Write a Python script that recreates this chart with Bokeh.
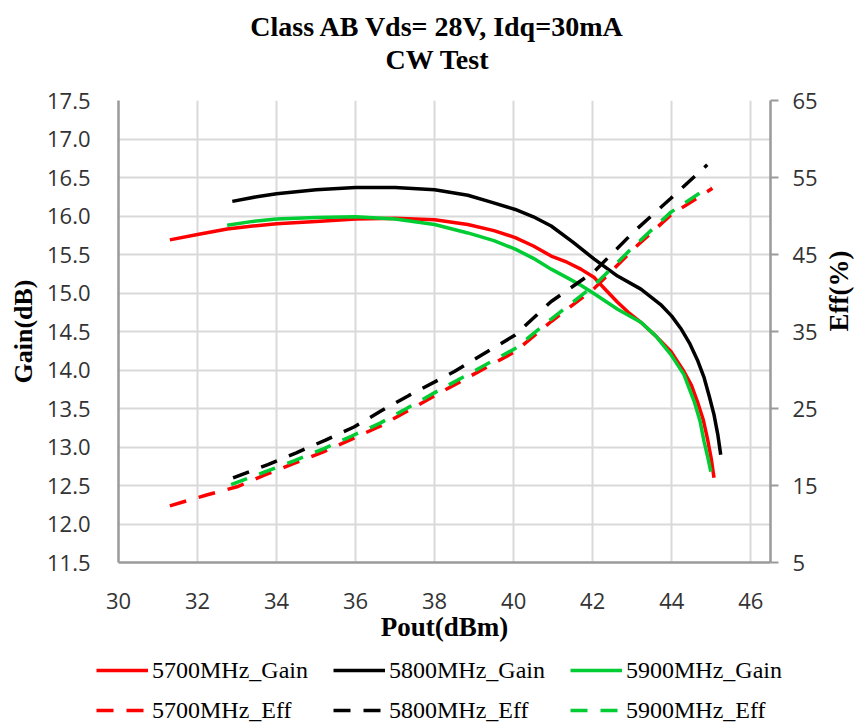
import math
from bokeh.plotting import figure
from bokeh.layouts import column
from bokeh.models import (Range1d, LinearAxis, FixedTicker, PrintfTickFormatter,
                          Legend, LegendItem, Title)
from bokeh.embed import file_html
from bokeh.resources import INLINE

# ---------------- data ----------------
title_line1 = "Class AB Vds= 28V, Idq=30mA"
title_line2 = "CW Test"
x_label = "Pout(dBm)"
y_label = "Gain(dB)"
y2_label = "Eff(%)"

x_ticks = [30, 32, 34, 36, 38, 40, 42, 44, 46]
gain_ticks = [11.5, 12.0, 12.5, 13.0, 13.5, 14.0, 14.5, 15.0, 15.5, 16.0, 16.5, 17.0, 17.5]
eff_ticks = [5, 15, 25, 35, 45, 55, 65]

series_names = ["5700MHz", "5800MHz", "5900MHz"]
series_colors = ["#ff0000", "#000000", "#00cc33"]

pout_5700_gain = [31.3, 32.0, 32.75, 33.4, 34.0, 35.0, 36.0, 37.0, 38.0, 38.84,
                  39.5, 40.04, 40.5, 40.95, 41.35, 41.7, 42.04, 42.35, 42.63, 42.9,
                  43.22, 43.6, 43.98, 44.31, 44.5, 44.65, 44.8, 44.9, 45.0, 45.07]
gain_5700 = [15.69, 15.76, 15.83, 15.87, 15.90, 15.93, 15.96, 15.97, 15.95, 15.89,
             15.81, 15.72, 15.61, 15.48, 15.40, 15.31, 15.20, 15.03, 14.88, 14.75,
             14.62, 14.44, 14.24, 13.98, 13.80, 13.59, 13.35, 13.12, 12.85, 12.60]

pout_5800_gain = [32.88, 33.5, 34.0, 35.0, 36.0, 37.0, 38.0, 38.84, 39.43, 40.04,
                  40.5, 40.95, 41.5, 42.04, 42.63, 43.22, 43.72, 44.0, 44.23, 44.45,
                  44.65, 44.82, 44.95, 45.07, 45.17, 45.24]
gain_5800 = [16.19, 16.25, 16.29, 16.34, 16.37, 16.37, 16.34, 16.27, 16.18, 16.085,
             15.99, 15.87, 15.66, 15.44, 15.22, 15.05, 14.85, 14.70, 14.54, 14.35,
             14.13, 13.90, 13.66, 13.42, 13.15, 12.90]

pout_5900_gain = [32.75, 33.4, 34.0, 35.0, 36.0, 37.0, 38.0, 38.84, 39.5, 40.04,
                  40.5, 40.95, 41.35, 41.7, 42.04, 42.63, 43.22, 43.6, 43.98, 44.31,
                  44.57, 44.72, 44.82, 44.92, 44.99]
gain_5900 = [15.88, 15.93, 15.96, 15.98, 15.99, 15.96, 15.89, 15.78, 15.68, 15.57,
             15.45, 15.31, 15.20, 15.10, 14.99, 14.79, 14.62, 14.44, 14.20, 13.94,
             13.59, 13.33, 13.07, 12.85, 12.68]

pout_5700_eff = [31.3, 32.25, 33.0, 33.72, 34.44, 35.2, 35.89, 36.62, 37.29, 37.98,
                 40.04, 40.95, 42.04, 43.05, 43.98, 45.03]
eff_5700 = [12.36, 13.8, 14.83, 16.4, 17.86, 19.4, 21.0, 22.7, 24.6, 26.6,
            32.4, 36.3, 40.6, 45.8, 50.15, 53.6]

pout_5800_eff = [32.9, 33.78, 34.5, 35.24, 35.96, 36.65, 37.35, 38.5, 40.04, 40.95,
                 42.04, 43.05, 43.98, 44.9]
eff_5800 = [16.0, 17.7, 19.25, 20.9, 22.6, 24.7, 26.7, 29.8, 34.55, 38.9,
            42.8, 48.0, 52.3, 56.65]

pout_5900_eff = [32.85, 33.72, 34.44, 35.2, 35.89, 36.62, 37.29, 37.98, 40.04, 40.95,
                 42.04, 43.05, 43.98, 44.98]
eff_5900 = [15.1, 16.8, 18.2, 19.8, 21.4, 23.1, 25.0, 27.0, 32.8, 36.6,
            41.0, 46.1, 50.5, 53.9]

gain_x = [pout_5700_gain, pout_5800_gain, pout_5900_gain]
gain_y = [gain_5700, gain_5800, gain_5900]
eff_x = [pout_5700_eff, pout_5800_eff, pout_5900_eff]
eff_y = [eff_5700, eff_5800, eff_5900]

# ---------------- styling constants ----------------
SERIF = "Liberation Serif"
SANS = "Open Sans"
AXIS_GRAY = "#9a9a9a"
GRID_GRAY = "#d9d9d9"
TICK_COLOR = "#333333"
LINE_W = 3.5
EFF_DASH = "17 13"

W = 857
HEAD_H = 80
LEG_H = 80
BORDER_L = 118
BORDER_R = 87

# ---------------- header (two-line title) ----------------
head = figure(width=W, height=HEAD_H, output_backend="svg", toolbar_location=None,
              x_range=Range1d(0, 1), y_range=Range1d(0, 1),
              x_axis_location=None, y_axis_location=None,
              min_border_left=BORDER_L, min_border_right=BORDER_R,
              min_border_top=74, min_border_bottom=0,
              background_fill_color="white", border_fill_color="white")
head.outline_line_color = None
head.xgrid.visible = False
head.ygrid.visible = False
head.title.visible = False
for txt in (title_line2, title_line1):
    head.add_layout(Title(text=txt, align="center", text_font=SERIF,
                          text_font_style="bold", text_font_size="28px",
                          text_color="black", offset=-10, standoff=0), "above")

# ---------------- main chart ----------------
p = figure(frame_width=652, frame_height=462, output_backend="svg", toolbar_location=None,
           x_range=Range1d(30, 46.5), y_range=Range1d(11.5, 17.5),
           min_border_left=BORDER_L, min_border_right=BORDER_R, min_border_top=20,
           min_border_bottom=82, background_fill_color="white",
           border_fill_color="white")
p.outline_line_color = None
p.title.visible = False

p.extra_y_ranges = {"eff": Range1d(5, 65)}

# grid
p.xgrid.ticker = FixedTicker(ticks=x_ticks)
p.ygrid.ticker = FixedTicker(ticks=gain_ticks)
for g in (p.xgrid[0], p.ygrid[0]):
    g.grid_line_color = GRID_GRAY
    g.grid_line_width = 2

# bottom axis
xa = p.xaxis[0]
xa.ticker = FixedTicker(ticks=x_ticks)
xa.axis_label = x_label
xa.axis_label_text_font = SERIF
xa.axis_label_text_font_style = "bold"
xa.axis_label_text_font_size = "27px"
xa.axis_label_text_color = "black"
xa.axis_label_standoff = 0
xa.major_label_text_font = SANS
xa.major_label_text_font_size = "22px"
xa.major_label_text_color = TICK_COLOR
xa.major_label_standoff = 30
xa.major_tick_in = 0
xa.major_tick_out = 0
xa.minor_tick_in = 0
xa.minor_tick_out = 0
xa.axis_line_color = AXIS_GRAY
xa.axis_line_width = 2.5

# left axis
ya = p.yaxis[0]
ya.ticker = FixedTicker(ticks=gain_ticks)
ya.formatter = PrintfTickFormatter(format="%.1f")
ya.axis_label = y_label
ya.axis_label_text_font = SERIF
ya.axis_label_text_font_style = "bold"
ya.axis_label_text_font_size = "26px"
ya.axis_label_text_color = "black"
ya.axis_label_standoff = 6
ya.major_label_text_font = SANS
ya.major_label_text_font_size = "22px"
ya.major_label_text_color = TICK_COLOR
ya.major_label_standoff = 28
ya.major_tick_in = 0
ya.major_tick_out = 0
ya.minor_tick_in = 0
ya.minor_tick_out = 0
ya.axis_line_color = AXIS_GRAY
ya.axis_line_width = 2.5

# right axis
ra = LinearAxis(y_range_name="eff", ticker=FixedTicker(ticks=eff_ticks))
ra.major_label_text_font = SANS
ra.major_label_text_font_size = "22px"
ra.major_label_text_color = TICK_COLOR
ra.major_label_standoff = 14
ra.major_tick_in = 0
ra.major_tick_out = 8
ra.major_tick_line_color = AXIS_GRAY
ra.major_tick_line_width = 2
ra.minor_tick_in = 0
ra.minor_tick_out = 0
ra.axis_line_color = AXIS_GRAY
ra.axis_line_width = 2.5
ra.axis_label = y2_label
ra.axis_label_text_font = SERIF
ra.axis_label_text_font_style = "bold"
ra.axis_label_text_font_size = "27px"
ra.axis_label_text_color = "black"
ra.axis_label_text_align = "center"
ra.axis_label_standoff = 18
if "axis_label_orientation" in ra.properties():
    ra.axis_label_orientation = math.pi / 2
p.add_layout(ra, "right")

# lines
for i in range(3):
    p.line(gain_x[i], gain_y[i], line_color=series_colors[i],
           line_width=LINE_W, line_join="round")
for i in range(3):
    p.line(eff_x[i], eff_y[i], y_range_name="eff",
           line_color=series_colors[i], line_width=LINE_W, line_dash=EFF_DASH)

# ---------------- legend strip ----------------
lg = figure(width=W, height=LEG_H, output_backend="svg", toolbar_location=None,
            x_range=Range1d(0, 1), y_range=Range1d(0, 1),
            x_axis_location=None, y_axis_location=None, min_border=0,
            min_border_left=0, min_border_right=0, min_border_top=0,
            min_border_bottom=0,
            background_fill_color="white", border_fill_color="white")
lg.outline_line_color = None
lg.xgrid.visible = False
lg.ygrid.visible = False
lg.title.visible = False
if "frame_align" in lg.properties():
    lg.frame_align = False

gain_items = []
eff_items = []
for i in range(3):
    # same series as the chart; they fall outside this strip's ranges, so only
    # their legend glyphs are visible here
    rg = lg.line(gain_x[i], gain_y[i], line_color=series_colors[i], line_width=LINE_W)
    re = lg.line(eff_x[i], eff_y[i], line_color=series_colors[i], line_width=LINE_W,
                 line_dash=EFF_DASH)
    gain_items.append(LegendItem(label=f"{series_names[i]}_Gain", renderers=[rg]))
    eff_items.append(LegendItem(label=f"{series_names[i]}_Eff", renderers=[re]))

def make_legend(items, loc):
    return Legend(items=items, location=loc, orientation="horizontal",
                  label_text_font=SERIF, label_text_font_size="24px",
                  label_text_color="black", glyph_width=52, glyph_height=28,
                  label_standoff=4, label_width=167, spacing=14,
                  padding=0, margin=0, border_line_color=None,
                  background_fill_alpha=0)

lg.add_layout(make_legend(gain_items, (96, 40)))
lg.add_layout(make_legend(eff_items, (96, 0)))

layout = column(head, p, lg, spacing=0)
open("out.html", "w").write(file_html(layout, INLINE))
